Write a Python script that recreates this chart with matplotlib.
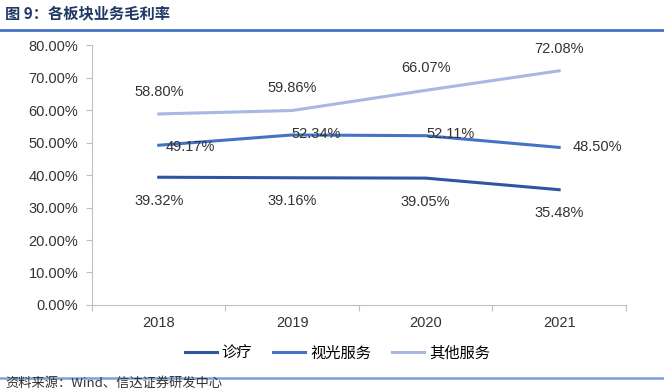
import matplotlib
matplotlib.use("Agg")
import matplotlib.pyplot as plt
from matplotlib.ticker import FuncFormatter

plt.rcParams['font.family'] = ['Liberation Sans', 'Noto Sans CJK SC', 'DejaVu Sans']

# data
years = ['2018', '2019', '2020', '2021']
zhenliao = [39.32, 39.16, 39.05, 35.48]
shiguang = [49.17, 52.34, 52.11, 48.50]
qita = [58.80, 59.86, 66.07, 72.08]

c1 = '#2F55A3'
c2 = '#4472C4'
c3 = '#A8B8E0'

fig = plt.figure(figsize=(6.64, 3.92), dpi=100)
ax = fig.add_axes([0.1386, 0.222, 0.804, 0.663])

x = range(len(years))
ax.plot(x, zhenliao, color=c1, lw=2.2, label='诊疗')
ax.plot(x, shiguang, color=c2, lw=2.2, label='视光服务')
ax.plot(x, qita, color=c3, lw=2.2, label='其他服务')

ax.set_xlim(-0.5, 3.5)
ax.set_ylim(0, 80)
ax.set_yticks(range(0, 81, 10))
ax.yaxis.set_major_formatter(FuncFormatter(lambda v, p: '%.2f%%' % v))
ax.set_xticks([-0.5, 0.5, 1.5, 2.5, 3.5])
ax.set_xticklabels([])
ax.set_xticks(list(x), minor=True)
ax.set_xticklabels(years, minor=True)
ax.tick_params(axis='x', which='minor', length=0, pad=8, labelsize=10.5, colors='#333333')
ax.tick_params(axis='x', which='major', length=4, color='#BFBFBF')
ax.tick_params(axis='y', length=4, color='#BFBFBF', labelsize=10.5, colors='#333333', pad=6)
for s in ['top', 'right']:
    ax.spines[s].set_visible(False)
ax.spines['left'].set_color('#BFBFBF')
ax.spines['bottom'].set_color('#BFBFBF')

lab = dict(fontsize=10.5, color='#333333', va='center')
for i, v in enumerate(zhenliao):
    ax.annotate('%.2f%%' % v, (i, v), xytext=(0, -17), textcoords='offset points', ha='center', **lab)
for i, v in enumerate(qita):
    ax.annotate('%.2f%%' % v, (i, v), xytext=(0, 16), textcoords='offset points', ha='center', **lab)
# 视光服务 labels: first and last to the right, middle two a bit right of the point
sg_off = [(5, -1), (17, 1), (18, 1), (10, 0)]
for i, v in enumerate(shiguang):
    dx, dy = sg_off[i]
    ax.annotate('%.2f%%' % v, (i, v), xytext=(dx, dy), textcoords='offset points',
                ha='left' if i in (0, 3) else 'center', **lab)

fig.legend(loc='center', bbox_to_anchor=(0.508, 0.098), ncol=3, frameon=False,
           fontsize=11, handlelength=2.1, handletextpad=0.3, columnspacing=1.4)

fig.text(0.008, 0.967, '图 9：各板块业务毛利率', fontsize=11, fontweight='bold',
         color='#1F3864', va='center', family=['Noto Sans CJK SC'])
fig.add_artist(plt.Line2D([0, 1], [0.923, 0.923], color='#4472C4', lw=2))
fig.add_artist(plt.Line2D([0, 1], [0.036, 0.036], color='#7F9FDB', lw=1.8))
fig.text(0.008, 0.006, '资料来源：Wind、信达证券研发中心', fontsize=9.5, style='italic',
         color='#333333', va='bottom', family=['Noto Sans CJK SC'])

fig.savefig('out.png', dpi=100)
